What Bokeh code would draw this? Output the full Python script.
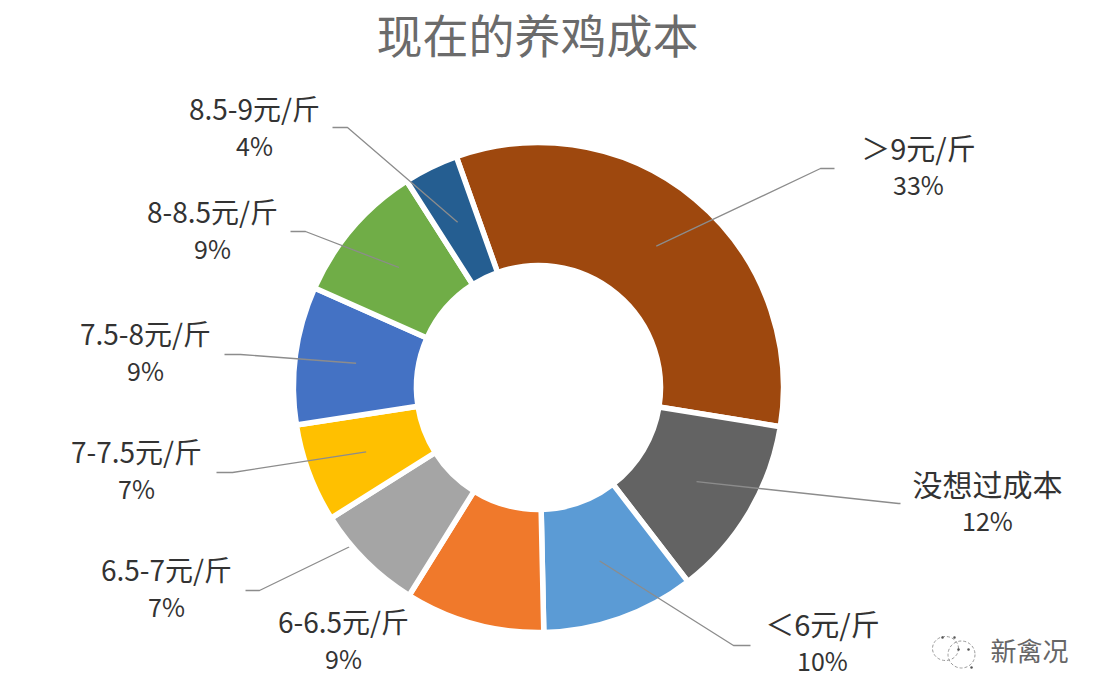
import math
from bokeh.plotting import figure
from bokeh.models import Range1d, ColumnDataSource
from bokeh.core.properties import value
from bokeh.embed import file_html
from bokeh.resources import INLINE

title = "现在的养鸡成本"
categories = ["＞9元/斤", "没想过成本", "＜6元/斤", "6-6.5元/斤", "6.5-7元/斤", "7-7.5元/斤", "7.5-8元/斤", "8-8.5元/斤", "8.5-9元/斤"]
shares = [33.0, 12.0, 10.1, 9.2, 7.2, 6.5, 9.1, 9.3, 3.6]
share_labels = ["33%", "12%", "10%", "9%", "7%", "7%", "9%", "9%", "4%"]
colors = ["#9E480E", "#636363", "#5B9BD5", "#F0792B", "#A5A5A5", "#FFC000", "#4472C4", "#70AD47", "#255E91"]
label_x = [918, 987, 822, 343, 166, 136, 145, 212, 254]
label_y = [146, 482, 622, 620, 568, 450, 332, 210, 107]
label_size = ["29px", "30px", "29px", "28px", "28px", "28px", "28px", "28px", "28px"]
elbow_x = [820, 898, 733, None, 259, 232, 240, 305, 347]
elbow_y = [168, 503, 645, None, 590, 472, 354, 231, 127]
elbow_end_x = [834, 900, 750, None, 245, 216, 224, 290, 332]
behind_slice = [False, False, False, False, True, False, False, False, False]

CX, CY, R_OUT, R_IN, START, GAP, ANCHOR = 538, 387, 245, 122, 19.6, 5.5, 184

p = figure(width=1086, height=684, output_backend="svg", toolbar_location=None,
           x_range=Range1d(0, 1086), y_range=Range1d(684, 0), min_border=0)
p.axis.visible = False
p.grid.visible = False
p.outline_line_color = None
p.background_fill_color = "#ffffff"

total = sum(shares)
edges = [-START]
for v in shares:
    edges.append(edges[-1] + v / total * 360)
mids = [(edges[i] + edges[i + 1]) / 2 for i in range(len(shares))]


def leader(i):
    m = math.radians(mids[i])
    px = CX + ANCHOR * math.sin(m)
    py = CY - ANCHOR * math.cos(m)
    p.line([px, elbow_x[i], elbow_end_x[i]], [py, elbow_y[i], elbow_y[i]],
           line_color="#8c8c8c", line_width=1.3)


for i in range(len(shares)):
    if elbow_x[i] is not None and behind_slice[i]:
        leader(i)

for i, c in enumerate(colors):
    p.annular_wedge(x=[CX], y=[CY], inner_radius=R_IN, outer_radius=R_OUT,
                    start_angle=[math.radians(90 - edges[i + 1])], end_angle=[math.radians(90 - edges[i])],
                    direction="anticlock", fill_color=c, line_color="#ffffff", line_width=GAP)

for i in range(len(shares)):
    if elbow_x[i] is not None and not behind_slice[i]:
        leader(i)

font = value("Noto Sans CJK SC")
src = ColumnDataSource(dict(x=label_x, y=label_y, t=categories, s=label_size))
p.text(x="x", y="y", text="t", text_font_size="s", source=src, text_font=font,
       text_color="#333333", text_align="center", text_baseline="middle")
p.text(x=label_x, y=[y + 37 for y in label_y], text=share_labels, text_font=font,
       text_font_size="25px", text_color="#333333", text_align="center", text_baseline="middle")
p.text(x=[537], y=[32], text=[title], text_font=font, text_font_size="46px",
       text_color="#6b6b6b", text_align="center", text_baseline="alphabetic")
p.text(x=[1029], y=[649], text=["新禽况"], text_font=font, text_font_size="26px",
       text_color="#666666", text_align="center", text_baseline="middle")

# watermark icon
p.ellipse(x=[945, 961], y=[648, 654], width=[26, 27], height=[24, 27], fill_color=None,
          line_color="#9a9a9a", line_width=1, line_dash="3 2")
p.scatter(x=[942, 954, 958, 968, 971], y=[637, 637, 649, 649, 667], size=2.5,
          fill_color="#555555", line_color=None)

open("out.html", "w").write(file_html(p, INLINE))
